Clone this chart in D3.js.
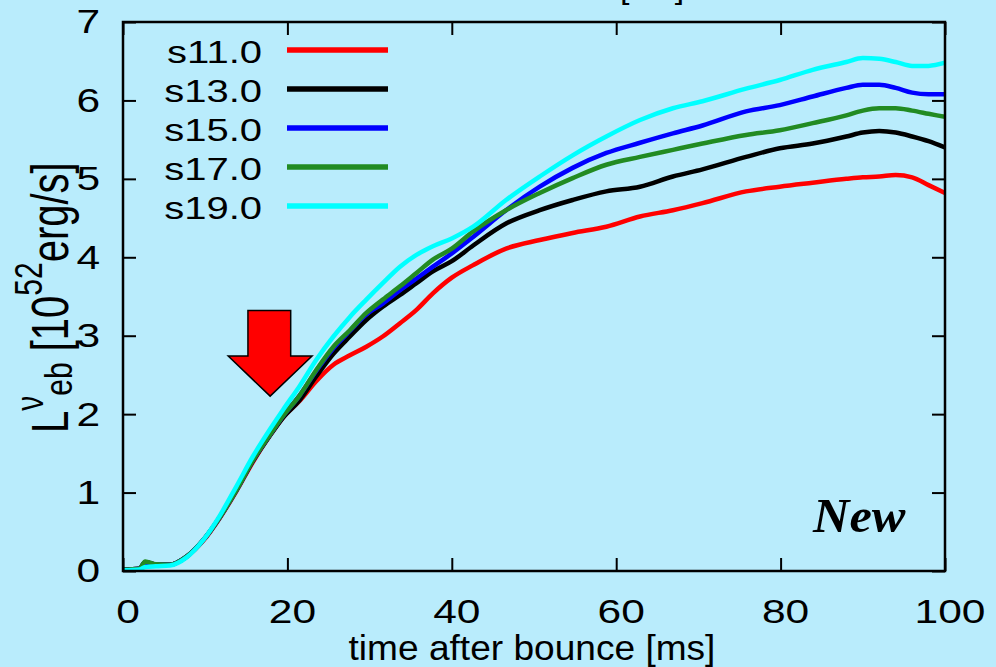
<!DOCTYPE html>
<html>
<head>
<meta charset="utf-8">
<script src="https://cdn.jsdelivr.net/npm/d3@7"></script>
<style>
  html, body { margin: 0; padding: 0; background: #b9ecfc; }
  svg { display: block; }
</style>
</head>
<body>
<div id="luminosity-graph"></div>
<script>
// time after bounce [ms]
const timeMs = [0, 2, 2.7, 4, 5.7, 7.7, 9.8, 11.8, 13.8, 15.8, 17.9, 19.5, 21.5, 23.5, 25.6, 27.6, 29.6, 31.6, 33.7, 35.7,
  37.7, 40, 42.6, 46.6, 50.7, 54.7, 58.8, 62.9, 66.9, 70.5, 75.8, 79.9, 83.9, 88, 90, 92, 94, 96, 98, 100];

// luminosity [10^52 erg/s] per progenitor
const s11 = [0.02, 0.03, 0.11, 0.085, 0.08, 0.18, 0.39, 0.68, 1.02, 1.39, 1.73, 1.96, 2.17, 2.42, 2.63, 2.75, 2.86, 2.99, 3.16, 3.33,
  3.54, 3.74, 3.90, 4.11, 4.22, 4.31, 4.39, 4.52, 4.60, 4.69, 4.84, 4.90, 4.95, 5.00, 5.02, 5.03, 5.05, 5.02, 4.92, 4.82];
const s13 = [0.02, 0.03, 0.11, 0.085, 0.08, 0.18, 0.40, 0.69, 1.03, 1.40, 1.73, 1.96, 2.18, 2.48, 2.77, 2.99, 3.20, 3.37, 3.52, 3.67,
  3.82, 3.95, 4.15, 4.43, 4.60, 4.73, 4.84, 4.90, 5.03, 5.12, 5.28, 5.39, 5.45, 5.54, 5.59, 5.61, 5.59, 5.54, 5.48, 5.40];
const s15 = [0.02, 0.03, 0.11, 0.085, 0.08, 0.18, 0.40, 0.69, 1.03, 1.41, 1.74, 1.98, 2.24, 2.55, 2.84, 3.06, 3.27, 3.41, 3.58, 3.73,
  3.88, 4.05, 4.26, 4.60, 4.90, 5.14, 5.33, 5.46, 5.58, 5.68, 5.86, 5.94, 6.05, 6.16, 6.20, 6.20, 6.16, 6.10, 6.08, 6.08];
const s17 = [0.02, 0.03, 0.12, 0.085, 0.08, 0.18, 0.40, 0.69, 1.03, 1.41, 1.74, 1.98, 2.24, 2.56, 2.86, 3.07, 3.29, 3.46, 3.63, 3.80,
  3.97, 4.11, 4.33, 4.60, 4.82, 5.01, 5.18, 5.28, 5.37, 5.45, 5.56, 5.62, 5.71, 5.81, 5.87, 5.90, 5.90, 5.87, 5.83, 5.79];
const s19 = [0.01, 0.02, 0.05, 0.06, 0.07, 0.17, 0.40, 0.71, 1.08, 1.46, 1.81, 2.06, 2.36, 2.69, 2.99, 3.24, 3.46, 3.67, 3.88, 4.03,
  4.14, 4.24, 4.39, 4.73, 5.03, 5.30, 5.54, 5.75, 5.90, 5.99, 6.15, 6.26, 6.39, 6.49, 6.54, 6.53, 6.49, 6.44, 6.44, 6.48];

const seriesNames = ['s11.0', 's13.0', 's15.0', 's17.0', 's19.0'];
const seriesValues = [s11, s13, s15, s17, s19];
const seriesColors = ['#ff0000', '#000000', '#0000ff', '#228b22', '#00ffff'];

const xTicks = [0, 20, 40, 60, 80, 100];
const yTicks = [0, 1, 2, 3, 4, 5, 6, 7];

// arrow annotation in data coordinates (t, L)
const arrowT = [15.2, 20.4, 20.4, 23.0, 17.9, 12.8, 15.2];
const arrowL = [3.32, 3.32, 2.74, 2.74, 2.23, 2.74, 2.74];

// Config
const width = 996;
const height = 667;
const margin = {top: 22, right: 51, bottom: 96, left: 123};
const font = '"Liberation Sans", Arial, Helvetica, sans-serif';
const stretch = 1.25;

const x = d3.scaleLinear()
  .domain([0, 100])
  .range([margin.left, width - margin.right]);

const y = d3.scaleLinear()
  .domain([0, 7])
  .range([height - margin.bottom, margin.top]);

const svg = d3.select('#luminosity-graph').append('svg')
  .attr('width', width)
  .attr('height', height);

svg.append('rect')
  .attr('width', width)
  .attr('height', height)
  .attr('fill', '#b9ecfc');

svg.append('defs').append('clipPath')
  .attr('id', 'plot-clip')
  .append('rect')
  .attr('x', x(0))
  .attr('y', y(7))
  .attr('width', x(100) - x(0))
  .attr('height', y(0) - y(7));

// Lines
const line = d3.line()
  .x(d => x(d.t))
  .y(d => y(d.v))
  .curve(d3.curveMonotoneX);

svg.append('g')
  .attr('clip-path', 'url(#plot-clip)')
  .selectAll('path')
  .data(seriesValues.map((vals, i) => ({color: seriesColors[i], pts: vals.map((v, j) => ({t: timeMs[j], v}))})))
  .join('path')
  .attr('fill', 'none')
  .attr('stroke', d => d.color)
  .attr('stroke-width', 4.5)
  .attr('stroke-linejoin', 'round')
  .attr('d', d => line(d.pts));

// Axes (ticks inward on all four sides)
const styleAxis = g => {
  g.select('.domain').remove();
  g.selectAll('.tick line').attr('stroke-width', 2);
  g.attr('font-family', font).attr('font-size', 34);
};

svg.append('g')
  .attr('transform', `translate(0,${y(0)})`)
  .call(d3.axisBottom(x).tickValues(xTicks).tickSize(-13).tickPadding(28).tickFormat(d3.format('d')))
  .call(styleAxis)
  .selectAll('text')
  .attr('fill', '#000')
  .attr('dx', 3.6)
  .attr('transform', `scale(${stretch},1)`);

svg.append('g')
  .attr('transform', `translate(0,${y(7)})`)
  .call(d3.axisTop(x).tickValues(xTicks).tickSize(-13).tickFormat(''))
  .call(styleAxis);

svg.append('g')
  .attr('transform', `translate(${x(0)},0)`)
  .call(d3.axisLeft(y).tickValues(yTicks).tickSize(-13).tickFormat(d3.format('d')))
  .call(styleAxis)
  .selectAll('text')
  .attr('fill', '#000')
  .attr('x', -23 / stretch)
  .attr('transform', `scale(${stretch},1)`);

svg.append('g')
  .attr('transform', `translate(${x(100)},0)`)
  .call(d3.axisRight(y).tickValues(yTicks).tickSize(-13).tickFormat(''))
  .call(styleAxis);

// Frame
svg.append('rect')
  .attr('x', x(0))
  .attr('y', y(7))
  .attr('width', x(100) - x(0))
  .attr('height', y(0) - y(7))
  .attr('fill', 'none')
  .attr('stroke', '#000')
  .attr('stroke-width', 2.5);

// Arrow
svg.append('path')
  .attr('d', d3.line()(arrowT.map((t, i) => [x(t), y(arrowL[i])])) + 'Z')
  .attr('fill', '#ff0000')
  .attr('stroke', '#000')
  .attr('stroke-width', 1.5)
  .attr('stroke-linejoin', 'miter');

// Legend
const legend = svg.append('g')
  .selectAll('g')
  .data(seriesNames)
  .join('g')
  .attr('transform', (d, i) => `translate(0,${50 + i * 39})`);

legend.append('line')
  .attr('x1', 287)
  .attr('x2', 388)
  .attr('stroke', (d, i) => seriesColors[i])
  .attr('stroke-width', 5.5);

legend.append('text')
  .attr('transform', `translate(262,13) scale(${stretch},1)`)
  .attr('text-anchor', 'end')
  .attr('font-family', font)
  .attr('font-size', 32)
  .text(d => d);

// X-Axis label
svg.append('text')
  .attr('transform', 'translate(532,660) scale(1.06,1)')
  .attr('text-anchor', 'middle')
  .attr('font-family', font)
  .attr('font-size', 35)
  .text('time after bounce [ms]');

// Y-Axis label
const yLabel = svg.append('text')
  .attr('transform', 'translate(68,433) scale(1.3,1) rotate(-90)')
  .attr('font-family', font)
  .attr('font-size', 40);
yLabel.append('tspan').text('L');
yLabel.append('tspan').attr('font-size', 30).attr('dy', -19).text('ν');
yLabel.append('tspan').attr('font-size', 30).attr('dy', 22).text('eb');
yLabel.append('tspan').attr('dy', -3).text(' [10');
yLabel.append('tspan').attr('font-size', 30).attr('dy', -20).text('52');
yLabel.append('tspan').attr('dy', 20).text('erg/s]');

// "New" tag
svg.append('text')
  .attr('transform', 'translate(813,532) scale(1.05,1)')
  .attr('font-family', '"Liberation Serif", "Times New Roman", serif')
  .attr('font-style', 'italic')
  .attr('font-weight', 'bold')
  .attr('font-size', 48)
  .text('New');

// cut-off title remnant at the top edge
svg.append('text')
  .attr('transform', 'translate(620,-2) scale(1.06,1)')
  .attr('font-family', font)
  .attr('font-size', 32)
  .text('[ms]');
</script>
</body>
</html>
